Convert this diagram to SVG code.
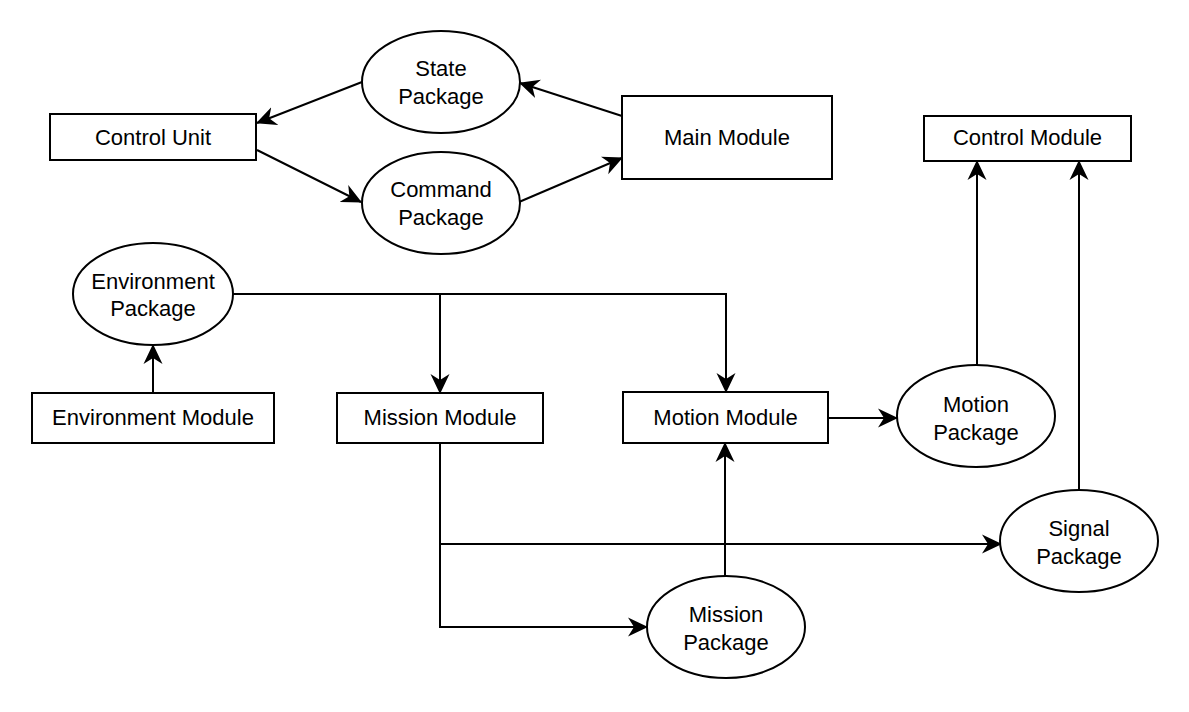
<svg xmlns="http://www.w3.org/2000/svg" width="1189" height="712" viewBox="0 0 1189 712">
<style>
.box{fill:#fff;stroke:#000;stroke-width:2}
.lbl{font-family:"Liberation Sans",Arial,sans-serif;font-size:22px;fill:#000;text-anchor:middle}
.edge{fill:none;stroke:#000;stroke-width:2;marker-end:url(#arr)}
</style>
<defs>
<marker id="arr" markerUnits="userSpaceOnUse" markerWidth="20" markerHeight="20" viewBox="0 0 20 20" refX="19" refY="10" orient="auto">
<path d="M0,0.5 L20,10 L0,19.5 L6,10 Z" fill="#000"/>
</marker>
</defs>
<rect width="1189" height="712" fill="#fff"/>
<g id="connectors">
<path class="edge" d="M362,82 L257,123"/>
<path class="edge" d="M257,150 L361,202"/>
<path class="edge" d="M622,116 L520,83"/>
<path class="edge" d="M519,202 L622,158"/>
<path class="edge" d="M153,393 L153,345"/>
<path class="edge" d="M233,294 L440,294 L440,393"/>
<path class="edge" d="M440,294 L726,294 L726,392"/>
<path class="edge" d="M828,418 L897,418"/>
<path class="edge" d="M977,365 L977,161"/>
<path class="edge" d="M1079,490 L1079,161"/>
<path class="edge" d="M440,443 L440,544 L1001,544"/>
<path class="edge" d="M440,544 L440,627 L647,627"/>
<path class="edge" d="M725,576 L725,443"/>
</g>
<g id="control-unit"><rect class="box" x="50" y="114" width="206" height="46"/><text class="lbl" x="153" y="145">Control Unit</text></g>
<g id="state-package"><ellipse class="box" cx="441" cy="82" rx="79" ry="51"/><text class="lbl" x="441" y="76">State</text><text class="lbl" x="441" y="104">Package</text></g>
<g id="command-package"><ellipse class="box" cx="441" cy="203" rx="79" ry="51"/><text class="lbl" x="441" y="197">Command</text><text class="lbl" x="441" y="225">Package</text></g>
<g id="main-module"><rect class="box" x="622" y="96" width="210" height="83"/><text class="lbl" x="727" y="145">Main Module</text></g>
<g id="control-module"><rect class="box" x="924" y="116" width="207" height="45"/><text class="lbl" x="1027.5" y="145">Control Module</text></g>
<g id="environment-package"><ellipse class="box" cx="153" cy="294" rx="80" ry="51"/><text class="lbl" x="153" y="289">Environment</text><text class="lbl" x="153" y="316">Package</text></g>
<g id="environment-module"><rect class="box" x="32" y="393" width="242" height="50"/><text class="lbl" x="153" y="425">Environment Module</text></g>
<g id="mission-module"><rect class="box" x="337" y="393" width="206" height="50"/><text class="lbl" x="440" y="425">Mission Module</text></g>
<g id="motion-module"><rect class="box" x="623" y="392" width="205" height="51"/><text class="lbl" x="725.5" y="425">Motion Module</text></g>
<g id="motion-package"><ellipse class="box" cx="976" cy="416" rx="79" ry="51"/><text class="lbl" x="976" y="412">Motion</text><text class="lbl" x="976" y="440">Package</text></g>
<g id="signal-package"><ellipse class="box" cx="1079" cy="541" rx="79" ry="51"/><text class="lbl" x="1079" y="536">Signal</text><text class="lbl" x="1079" y="564">Package</text></g>
<g id="mission-package"><ellipse class="box" cx="726" cy="627" rx="79" ry="51"/><text class="lbl" x="726" y="622">Mission</text><text class="lbl" x="726" y="650">Package</text></g>
</svg>
